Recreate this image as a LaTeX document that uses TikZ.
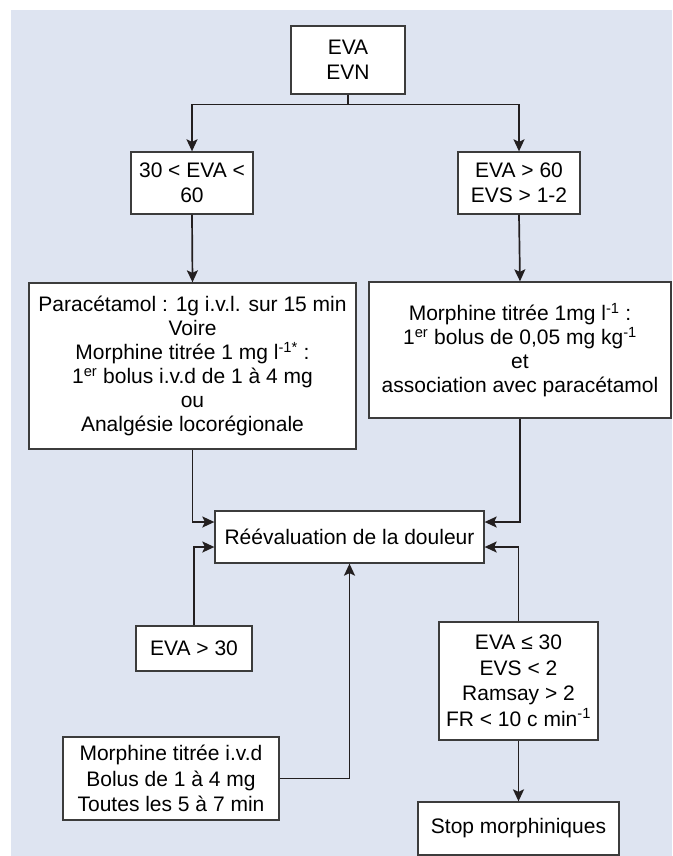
\documentclass[tikz,border=0pt]{standalone}
\usepackage{fontspec}
\setmainfont{Liberation Sans}
\usepackage{tikz}
\usetikzlibrary{arrows.meta, positioning}
\definecolor{bgblue}{RGB}{222,228,241}
\definecolor{boxline}{RGB}{60,60,60}
\definecolor{arrline}{RGB}{35,31,32}

\begin{document}
\begin{tikzpicture}[x=1pt, y=-1pt,
  box/.style={draw=boxline, fill=white, line width=1.3pt, align=center,
              inner sep=0pt, font=\fontsize{21}{25.5}\selectfont},
  tight/.style={font=\fontsize{21}{24}\selectfont},
  arr/.style={draw=arrline, line width=1.7pt,
              -{Stealth[length=12pt,width=11pt,inset=2.5pt]}}]
\useasboundingbox (0,0) rectangle (672,856);
\fill[bgblue] (11,10) rectangle (672,856);
%
\node[box, minimum width=114pt, minimum height=68pt] (eva) at (348,60) {EVA\\EVN};
\node[box, minimum width=122pt, minimum height=62pt] (low) at (192,183) {30 < EVA <\\60};
\node[box, minimum width=122pt, minimum height=62pt] (high) at (519,183) {EVA > 60\\EVS > 1-2};
\node[box, tight, minimum width=327pt, minimum height=166pt] (para) at (192.5,366)
  {Paracétamol : 1g i.v.l. sur 15 min\\Voire\\
   Morphine titrée 1 mg l\textsuperscript{-1*} :\\
   1\textsuperscript{er} bolus i.v.d de 1 à 4 mg\\ou\\Analgésie locorégionale};
\node[box, tight, minimum width=302pt, minimum height=136pt] (morph) at (520,350)
  {Morphine titrée 1mg l\textsuperscript{-1} :\\
   1\textsuperscript{er} bolus de 0,05 mg kg\textsuperscript{-1}\\et\\
   association avec paracétamol};
\node[box, minimum width=269pt, minimum height=52pt] (reeval) at (349.5,537) {Réévaluation de la douleur};
\node[box, minimum width=116pt, minimum height=45pt] (sup30) at (194,648.5) {EVA > 30};
\node[box, minimum width=159pt, minimum height=118pt] (inf30) at (518.5,681)
  {EVA ≤ 30\\EVS < 2\\Ramsay > 2\\FR < 10 c min\textsuperscript{-1}};
\node[box, minimum width=216pt, minimum height=83pt] (bolus) at (171,778.5)
  {Morphine titrée i.v.d\\Bolus de 1 à 4 mg\\Toutes les 5 à 7 min};
\node[box, minimum width=201pt, minimum height=53pt] (stop) at (518.5,828.5) {Stop morphiniques};
%
\draw[arr] (eva.south) -- ++(0,10) -| (low.north);
\draw[arr] (eva.south) -- ++(0,10) -| (high.north);
\draw[arr] (low.south) -- (para.north);
\draw[arr] (high.south) -- (morph.north);
\draw[arr] (para.south) |- ([yshift=15pt]reeval.west);
\draw[arr] (morph.south) |- ([yshift=15pt]reeval.east);
\draw[arr] (sup30.north) |- ([yshift=-10pt]reeval.west);
\draw[arr] (inf30.north) |- ([yshift=-10pt]reeval.east);
\draw[arr] (bolus.east) -| (reeval.south);
\draw[arr] (inf30.south) -- (stop.north);
%
\end{tikzpicture}
\end{document}
